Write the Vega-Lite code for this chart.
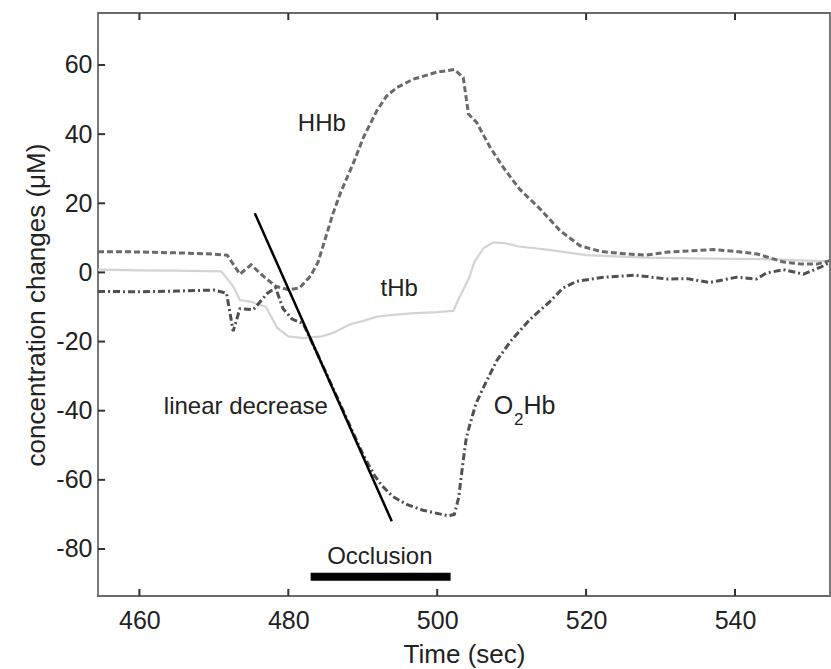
{
  "$schema": "https://vega.github.io/schema/vega-lite/v6.json",
  "width": 732,
  "height": 583,
  "autosize": "none",
  "padding": {"left": 98, "top": 13, "right": 1, "bottom": 73},
  "background": "white",
  "config": {
    "view": {"stroke": "#6a6a6a", "strokeWidth": 1.8},
    "font": "Liberation Sans",
    "axis": {"grid": false, "labelFont": "Liberation Sans", "titleFont": "Liberation Sans", "labelColor": "#222", "titleColor": "#222", "domain": false, "ticks": false, "titleFontWeight": "normal"}
  },
  "datasets": {
    "hhb": [
      {"t": 454.44, "v": 6.0}, {"t": 458, "v": 6.0}, {"t": 462, "v": 5.8}, {"t": 466, "v": 5.6}, {"t": 470, "v": 5.3}, {"t": 471.8, "v": 5.0},
      {"t": 473.5, "v": -0.5}, {"t": 475.0, "v": 2.2}, {"t": 476.6, "v": -1.0}, {"t": 478.3, "v": -4.0}, {"t": 480.0, "v": -5.0}, {"t": 481.5, "v": -4.5},
      {"t": 483.0, "v": -1.0}, {"t": 484.0, "v": 3.0}, {"t": 485.0, "v": 10}, {"t": 486.0, "v": 17}, {"t": 487.0, "v": 23}, {"t": 488.7, "v": 31.4},
      {"t": 490.1, "v": 39.1}, {"t": 491.9, "v": 46.8}, {"t": 493.2, "v": 51}, {"t": 494.6, "v": 53.5}, {"t": 496.8, "v": 55.9}, {"t": 499.9, "v": 57.9},
      {"t": 502.3, "v": 58.7}, {"t": 503.5, "v": 56.4}, {"t": 504.2, "v": 45.8}, {"t": 505.3, "v": 43.4}, {"t": 507.1, "v": 36.2}, {"t": 509.0, "v": 30},
      {"t": 511.1, "v": 24.0}, {"t": 513.8, "v": 18.4}, {"t": 516.5, "v": 12.1}, {"t": 519.2, "v": 7.7}, {"t": 521.9, "v": 6.1}, {"t": 524.5, "v": 5.5},
      {"t": 528.1, "v": 5.0}, {"t": 531, "v": 5.9}, {"t": 537.1, "v": 6.6}, {"t": 540.5, "v": 6.0}, {"t": 543, "v": 5.3}, {"t": 546.5, "v": 3.0},
      {"t": 549, "v": 2.4}, {"t": 551, "v": 2.4}, {"t": 552.76, "v": 3.4}
    ],
    "o2hb": [
      {"t": 454.44, "v": -5.5}, {"t": 460, "v": -5.6}, {"t": 465, "v": -5.4}, {"t": 470, "v": -5.1}, {"t": 471.7, "v": -6.0}, {"t": 472.6, "v": -17.0},
      {"t": 473.5, "v": -10.5}, {"t": 475.3, "v": -10.8}, {"t": 477.2, "v": -6.0}, {"t": 478.3, "v": -4.5}, {"t": 479.3, "v": -10.5}, {"t": 480.5, "v": -13.5},
      {"t": 482.0, "v": -14.8}, {"t": 484, "v": -24}, {"t": 486, "v": -33.5}, {"t": 488, "v": -43}, {"t": 490, "v": -52.5}, {"t": 491.5, "v": -58.5},
      {"t": 492.5, "v": -61.5}, {"t": 494, "v": -64.8}, {"t": 496, "v": -67.2}, {"t": 498.1, "v": -68.8}, {"t": 500, "v": -69.7}, {"t": 501.5, "v": -70.4},
      {"t": 502.3, "v": -70.0}, {"t": 502.9, "v": -65}, {"t": 503.4, "v": -56}, {"t": 503.9, "v": -48}, {"t": 504.4, "v": -43.9}, {"t": 505.2, "v": -38},
      {"t": 506.2, "v": -33.3}, {"t": 508.0, "v": -25.5}, {"t": 510, "v": -19.5}, {"t": 512.5, "v": -13.5}, {"t": 515.1, "v": -8.5}, {"t": 516.9, "v": -4.5},
      {"t": 518.7, "v": -2.6}, {"t": 522.3, "v": -1.4}, {"t": 526.5, "v": -0.8}, {"t": 530.8, "v": -1.9}, {"t": 533.6, "v": -1.8}, {"t": 536.6, "v": -2.9},
      {"t": 540.2, "v": -1.4}, {"t": 542.9, "v": -1.9}, {"t": 544.2, "v": -0.2}, {"t": 546.5, "v": 0.8}, {"t": 549.2, "v": -0.5}, {"t": 551.5, "v": 1.5},
      {"t": 552.76, "v": 3.0}
    ],
    "thb": [
      {"t": 454.44, "v": 0.8}, {"t": 460, "v": 0.6}, {"t": 465, "v": 0.5}, {"t": 471, "v": 0.3}, {"t": 472.6, "v": -4}, {"t": 473.5, "v": -8},
      {"t": 475, "v": -8.5}, {"t": 477, "v": -10}, {"t": 478.5, "v": -16}, {"t": 480, "v": -18.5}, {"t": 482, "v": -19}, {"t": 484.5, "v": -18.5},
      {"t": 486, "v": -17.5}, {"t": 488.3, "v": -15}, {"t": 490.1, "v": -14}, {"t": 491.9, "v": -12.8}, {"t": 494, "v": -12.3}, {"t": 497, "v": -11.8},
      {"t": 500, "v": -11.5}, {"t": 502.2, "v": -11.1}, {"t": 502.8, "v": -8}, {"t": 503.5, "v": -5}, {"t": 504.3, "v": -1.5}, {"t": 505.0, "v": 3},
      {"t": 506.2, "v": 7.0}, {"t": 507.5, "v": 8.7}, {"t": 509, "v": 8.5}, {"t": 511, "v": 7.5}, {"t": 515, "v": 6.5}, {"t": 520, "v": 5.0},
      {"t": 528, "v": 4.3}, {"t": 537, "v": 4.0}, {"t": 545, "v": 3.8}, {"t": 552.76, "v": 3.2}
    ],
    "fit": [{"t": 475.5, "v": 17.1}, {"t": 493.9, "v": -72.0}],
    "occ": [{"t": 483.0, "v": -88.0}, {"t": 501.8, "v": -88.0}],
    "lab": [
      {"t": 484.5, "v": 42.9, "text": "HHb"},
      {"t": 494.9, "v": -4.8, "text": "tHb"},
      {"t": 474.3, "v": -39.0, "text": "linear decrease"},
      {"t": 492.3, "v": -82.3, "text": "Occlusion"}
    ],
    "o2": [{"t": 507.6, "v": -38.6, "text": "O"}, {"t": 511.6, "v": -38.6, "text": "Hb"}],
    "sub": [{"t": 510.3, "v": -42.8, "text": "2"}],
    "xt": [{"t": 460}, {"t": 480}, {"t": 500}, {"t": 520}, {"t": 540}],
    "yt": [{"v": -80}, {"v": -60}, {"v": -40}, {"v": -20}, {"v": 0}, {"v": 20}, {"v": 40}, {"v": 60}]
  },
  "layer": [
    {
      "data": {"name": "thb"},
      "mark": {"type": "line", "color": "#d3d3d3", "strokeWidth": 2.2},
      "encoding": {
        "x": {"field": "t", "type": "quantitative", "scale": {"domain": [454.44, 552.76], "nice": false, "zero": false},
              "axis": {"orient": "bottom", "title": "Time (sec)", "values": [460, 480, 500, 520, 540], "labelPadding": 12, "labelFontSize": 25, "titleFontSize": 26, "titlePadding": 8}},
        "y": {"field": "v", "type": "quantitative", "scale": {"domain": [-93.6, 75.04], "nice": false, "zero": false},
              "axis": {"title": "concentration changes (\u03bcM)", "values": [-80, -60, -40, -20, 0, 20, 40, 60], "labelExpr": "toString(datum.value)", "labelPadding": 6, "labelFontSize": 25, "titleFontSize": 26, "titlePadding": 6}}
      }
    },
    {
      "data": {"name": "xt"},
      "mark": {"type": "tick", "orient": "vertical", "color": "#333", "size": 7, "thickness": 2, "opacity": 1},
      "encoding": {
        "x": {"field": "t", "type": "quantitative"},
        "y": {"datum": 74.0, "type": "quantitative"}
      }
    },
    {
      "data": {"name": "xt"},
      "mark": {"type": "tick", "orient": "vertical", "color": "#333", "size": 7, "thickness": 2, "opacity": 1},
      "encoding": {
        "x": {"field": "t", "type": "quantitative"},
        "y": {"datum": -92.56, "type": "quantitative"}
      }
    },
    {
      "data": {"name": "yt"},
      "mark": {"type": "tick", "orient": "horizontal", "color": "#333", "size": 7, "thickness": 2, "opacity": 1},
      "encoding": {
        "y": {"field": "v", "type": "quantitative"},
        "x": {"datum": 454.92, "type": "quantitative"}
      }
    },
    {
      "data": {"name": "hhb"},
      "mark": {"type": "line", "color": "#6a6a6a", "strokeWidth": 3, "strokeDash": [6, 3]},
      "encoding": {
        "x": {"field": "t", "type": "quantitative"},
        "y": {"field": "v", "type": "quantitative"}
      }
    },
    {
      "data": {"name": "o2hb"},
      "mark": {"type": "line", "color": "#505050", "strokeWidth": 3, "strokeDash": [7, 3, 2, 3]},
      "encoding": {
        "x": {"field": "t", "type": "quantitative"},
        "y": {"field": "v", "type": "quantitative"}
      }
    },
    {
      "data": {"name": "fit"},
      "mark": {"type": "line", "color": "#000", "strokeWidth": 2.5},
      "encoding": {
        "x": {"field": "t", "type": "quantitative"},
        "y": {"field": "v", "type": "quantitative"}
      }
    },
    {
      "data": {"name": "occ"},
      "mark": {"type": "line", "color": "#000", "strokeWidth": 8, "strokeCap": "butt"},
      "encoding": {
        "x": {"field": "t", "type": "quantitative"},
        "y": {"field": "v", "type": "quantitative"}
      }
    },
    {
      "data": {"name": "lab"},
      "mark": {"type": "text", "fontSize": 24, "color": "#222", "align": "center", "baseline": "middle", "font": "Liberation Sans"},
      "encoding": {
        "x": {"field": "t", "type": "quantitative"},
        "y": {"field": "v", "type": "quantitative"},
        "text": {"field": "text"}
      }
    },
    {
      "data": {"name": "o2"},
      "mark": {"type": "text", "fontSize": 25, "color": "#222", "align": "left", "baseline": "middle", "font": "Liberation Sans"},
      "encoding": {
        "x": {"field": "t", "type": "quantitative"},
        "y": {"field": "v", "type": "quantitative"},
        "text": {"field": "text"}
      }
    },
    {
      "data": {"name": "sub"},
      "mark": {"type": "text", "fontSize": 17, "color": "#222", "align": "left", "baseline": "middle", "font": "Liberation Sans"},
      "encoding": {
        "x": {"field": "t", "type": "quantitative"},
        "y": {"field": "v", "type": "quantitative"},
        "text": {"field": "text"}
      }
    }
  ]
}
